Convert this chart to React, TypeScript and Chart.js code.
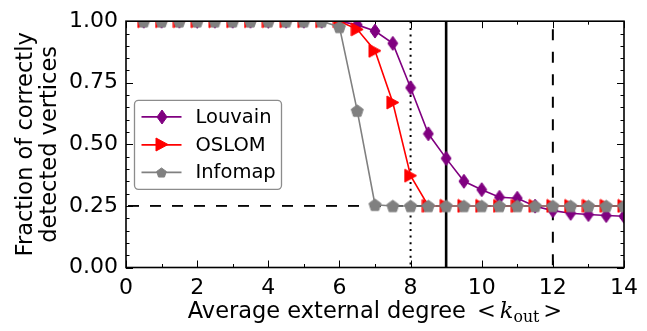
import React, { useEffect, useRef } from "react";
import { Chart, registerables } from "chart.js";

Chart.register(...registerables);

// ---- data ----
const kOut = [0.5, 1, 1.5, 2, 2.5, 3, 3.5, 4, 4.5, 5, 5.5, 6, 6.5, 7, 7.5, 8, 8.5, 9, 9.5, 10, 10.5, 11, 11.5, 12, 12.5, 13, 13.5, 14];
const louvain = [1, 1, 1, 1, 1, 1, 1, 1, 1, 1, 1, 1, 0.985, 0.96, 0.91, 0.73, 0.543, 0.443, 0.35, 0.316, 0.285, 0.281, 0.249, 0.231, 0.22, 0.215, 0.211, 0.208];
const oslom = [1, 1, 1, 1, 1, 1, 1, 1, 1, 1, 1, 1, 0.967, 0.88, 0.67, 0.373, 0.25, 0.25, 0.25, 0.25, 0.25, 0.25, 0.25, 0.25, 0.25, 0.25, 0.25, 0.25];
const infomap = [1, 1, 1, 1, 1, 1, 1, 1, 1, 1, 1, 0.977, 0.637, 0.255, 0.25, 0.25, 0.25, 0.25, 0.25, 0.25, 0.25, 0.25, 0.25, 0.25, 0.25, 0.25, 0.25, 0.25];
const seriesNames = ["Louvain", "OSLOM", "Infomap"];
const seriesColors = ["#800080", "#ff0000", "#808080"];
const xTicksMajor = [0, 2, 4, 6, 8, 10, 12, 14];
const yTicksMajor = [0, 0.25, 0.5, 0.75, 1.0];
const refHorizontal = 0.25;
const refDotted = 8;
const refSolid = 9;
const refDashed = 12;

const FONT = "'DejaVu Sans', sans-serif";
const SERIF = "'DejaVu Serif', 'Liberation Serif', serif";
const TICK_SIZE = 22;
const TITLE_SIZE = 22.5;
const LEGEND_SIZE = 19.5;

function makeMarker(kind: string, color: string, scale = 1): HTMLCanvasElement {
  const c = document.createElement("canvas");
  let ctx = c.getContext("2d")!;
  const path: [number, number][] = [];
  if (kind === "diamond") {
    const w = 10 * scale, h = 14 * scale;
    c.width = Math.ceil(w + 2); c.height = Math.ceil(h + 2);
    const cx = c.width / 2, cy = c.height / 2;
    path.push([cx, cy - h / 2], [cx + w / 2, cy], [cx, cy + h / 2], [cx - w / 2, cy]);
  } else if (kind === "triangle") {
    const w = 12 * scale, h = 13 * scale;
    c.width = Math.ceil(w + 2); c.height = Math.ceil(h + 2);
    const cx = c.width / 2, cy = c.height / 2;
    path.push([cx - w / 2, cy - h / 2], [cx + w / 2, cy], [cx - w / 2, cy + h / 2]);
  } else {
    const r = 6.3 * scale;
    c.width = Math.ceil(2 * r + 2); c.height = Math.ceil(2 * r + 2);
    const cx = c.width / 2, cy = c.height / 2 + 0.6 * scale;
    for (let i = 0; i < 5; i++) {
      const a = -Math.PI / 2 + (i * 2 * Math.PI) / 5;
      path.push([cx + r * Math.cos(a), cy + r * Math.sin(a)]);
    }
  }
  ctx = c.getContext("2d")!;
  ctx.fillStyle = color;
  ctx.strokeStyle = color;
  ctx.lineWidth = 1;
  ctx.beginPath();
  path.forEach(([px, py], i) => (i === 0 ? ctx.moveTo(px, py) : ctx.lineTo(px, py)));
  ctx.closePath();
  ctx.fill();
  ctx.stroke();
  return c;
}

export default function App() {
  const ref = useRef<HTMLCanvasElement | null>(null);

  useEffect(() => {
    document.body.style.margin = "0";
    const canvas = ref.current!;
    const kinds = ["diamond", "triangle", "pentagon"];
    const markers = kinds.map((k, i) => makeMarker(k, seriesColors[i]));
    const legendMarkers = kinds.map((k, i) => makeMarker(k, seriesColors[i], k === "pentagon" ? 0.8 : 1));
    const values = [louvain, oslom, infomap];

    const decor = {
      id: "decor",
      beforeDatasetsDraw(chart: any) {
        const { ctx, chartArea: ca, scales } = chart;
        const xs = scales.x, ys = scales.y;
        ctx.save();
        ctx.beginPath();
        ctx.rect(ca.left, ca.top, ca.right - ca.left, ca.bottom - ca.top);
        ctx.clip();
        ctx.strokeStyle = "#000";
        ctx.lineWidth = 1.8;
        ctx.setLineDash([11, 11]);
        ctx.lineDashOffset = -2;
        const y = ys.getPixelForValue(refHorizontal);
        ctx.beginPath(); ctx.moveTo(ca.left, y); ctx.lineTo(ca.right, y); ctx.stroke();
        ctx.lineWidth = 2;
        ctx.setLineDash([2, 4.7]);
        ctx.lineDashOffset = 0;
        let x = xs.getPixelForValue(refDotted);
        ctx.beginPath(); ctx.moveTo(x, ca.top); ctx.lineTo(x, ca.bottom); ctx.stroke();
        ctx.setLineDash([]);
        ctx.lineWidth = 2.6;
        x = xs.getPixelForValue(refSolid);
        ctx.beginPath(); ctx.moveTo(x, ca.top); ctx.lineTo(x, ca.bottom); ctx.stroke();
        ctx.lineWidth = 2;
        ctx.setLineDash([11, 11.5]);
        ctx.lineDashOffset = -8;
        x = xs.getPixelForValue(refDashed);
        ctx.beginPath(); ctx.moveTo(x, ca.top); ctx.lineTo(x, ca.bottom); ctx.stroke();
        ctx.restore();

        ctx.save();
        ctx.strokeStyle = "#000";
        ctx.lineWidth = 1;
        for (let v = xs.min; v <= xs.max + 1e-9; v += 1) {
          const major = xTicksMajor.some((t) => Math.abs(t - v) < 1e-9);
          const len = major ? 7 : 3.5;
          const px = Math.round(xs.getPixelForValue(v)) + 0.5;
          ctx.beginPath();
          ctx.moveTo(px, ca.bottom); ctx.lineTo(px, ca.bottom - len);
          ctx.moveTo(px, ca.top); ctx.lineTo(px, ca.top + len);
          ctx.stroke();
        }
        for (let i = 0; i <= 20; i++) {
          const v = i * 0.05;
          const major = yTicksMajor.some((t) => Math.abs(t - v) < 1e-9);
          const len = major ? 7 : 3.5;
          const py = Math.round(ys.getPixelForValue(v)) + 0.5;
          ctx.beginPath();
          ctx.moveTo(ca.left, py); ctx.lineTo(ca.left + len, py);
          ctx.moveTo(ca.right, py); ctx.lineTo(ca.right - len, py);
          ctx.stroke();
        }
        ctx.restore();
      },
      afterDraw(chart: any) {
        const { ctx, chartArea: ca } = chart;
        ctx.save();
        ctx.strokeStyle = "#000";
        ctx.lineWidth = 1.6;
        ctx.strokeRect(ca.left, ca.top, ca.right - ca.left, ca.bottom - ca.top);
        ctx.restore();

        // legend
        ctx.save();
        const lx = ca.left + 8.5;
        const cy = (ca.top + ca.bottom) / 2 + 1;
        const bw = 147, bh = 89;
        ctx.beginPath();
        (ctx as any).roundRect(lx, cy - bh / 2 - 0.5, bw, bh, 4);
        ctx.fillStyle = "#fff";
        ctx.fill();
        ctx.strokeStyle = "#8c8c8c";
        ctx.lineWidth = 1.3;
        ctx.stroke();
        const rows = [-28.5, -0.5, 27];
        ctx.font = `${LEGEND_SIZE}px ${FONT}`;
        ctx.textBaseline = "middle";
        ctx.textAlign = "left";
        for (let i = 0; i < 3; i++) {
          const ry = cy + rows[i];
          ctx.strokeStyle = seriesColors[i];
          ctx.lineWidth = 1.6;
          ctx.beginPath(); ctx.moveTo(lx + 7, ry); ctx.lineTo(lx + 47, ry); ctx.stroke();
          const m = legendMarkers[i];
          ctx.drawImage(m, Math.round(lx + 27 - m.width / 2), Math.round(ry - m.height / 2));
          ctx.fillStyle = "#000";
          ctx.fillText(seriesNames[i], lx + 61, ry + 1);
        }
        ctx.restore();

        // x title
        ctx.save();
        ctx.fillStyle = "#000";
        ctx.textBaseline = "alphabetic";
        ctx.textAlign = "left";
        const base = 318;
        const main = "Average external degree";
        const S = TITLE_SIZE;
        ctx.font = `${S}px ${FONT}`;
        const wMain = ctx.measureText(main).width;
        ctx.font = `${S}px ${SERIF}`;
        const wLt = ctx.measureText("<").width;
        ctx.font = `italic ${S}px ${SERIF}`;
        const wK = ctx.measureText("k").width;
        ctx.font = `${S * 0.7}px ${SERIF}`;
        const wOut = ctx.measureText("out").width;
        ctx.font = `${S}px ${SERIF}`;
        const wGt = ctx.measureText(">").width;
        const gap1 = 11, gap2 = 4, gap3 = 4;
        const total = wMain + gap1 + wLt + gap2 + wK + wOut + gap3 + wGt;
        let cx = (ca.left + ca.right) / 2 - total / 2;
        ctx.font = `${S}px ${FONT}`;
        ctx.fillText(main, cx, base); cx += wMain + gap1;
        ctx.font = `${S}px ${SERIF}`;
        ctx.fillText("<", cx, base); cx += wLt + gap2;
        ctx.font = `italic ${S}px ${SERIF}`;
        ctx.fillText("k", cx, base); cx += wK;
        ctx.font = `${S * 0.7}px ${SERIF}`;
        ctx.fillText("out", cx, base + 4); cx += wOut + gap3;
        ctx.font = `${S}px ${SERIF}`;
        ctx.fillText(">", cx, base);
        ctx.restore();

        // y title
        ctx.save();
        ctx.fillStyle = "#000";
        ctx.font = `${TITLE_SIZE}px ${FONT}`;
        ctx.textAlign = "center";
        ctx.textBaseline = "alphabetic";
        const ymid = (ca.top + ca.bottom) / 2;
        ctx.translate(32, ymid);
        ctx.rotate(-Math.PI / 2);
        ctx.fillText("Fraction of correctly", 0, 0);
        ctx.fillText("detected vertices", 0, 24);
        ctx.restore();
      },
    };

    const chart = new Chart(canvas, {
      type: "line",
      data: {
        datasets: seriesNames.map((name, i) => ({
          label: name,
          data: kOut.map((x, j) => ({ x, y: values[i][j] })),
          borderColor: seriesColors[i],
          backgroundColor: seriesColors[i],
          borderWidth: 1.6,
          pointStyle: markers[i] as any,
          pointRadius: 6,
          pointHoverRadius: 6,
          fill: false,
          tension: 0,
          order: 3 - i,
        })),
      },
      options: {
        animation: false,
        responsive: true,
        maintainAspectRatio: false,
        events: [],
        layout: { padding: { top: 21, right: 23, left: 0, bottom: 0 } },
        plugins: { legend: { display: false }, tooltip: { enabled: false } },
        scales: {
          x: {
            type: "linear",
            min: 0,
            max: 14,
            grid: { display: false, drawTicks: false },
            border: { display: false },
            ticks: {
              stepSize: 2,
              padding: 8,
              color: "#000",
              font: { family: FONT, size: TICK_SIZE },
              maxRotation: 0,
              autoSkip: false,
            },
            afterFit: (s: any) => { s.height = 63.5; },
          },
          y: {
            type: "linear",
            min: 0,
            max: 1,
            grid: { display: false, drawTicks: false },
            border: { display: false },
            ticks: {
              stepSize: 0.25,
              padding: 8,
              color: "#000",
              font: { family: FONT, size: TICK_SIZE },
              callback: (v: any) => Number(v).toFixed(2),
            },
            afterFit: (s: any) => { s.width = 126; },
          },
        },
      },
      plugins: [decor],
    });
    return () => chart.destroy();
  }, []);

  return (
    <div style={{ position: "absolute", left: 0, top: 0, width: 647, height: 331 }}>
      <canvas ref={ref} />
    </div>
  );
}
